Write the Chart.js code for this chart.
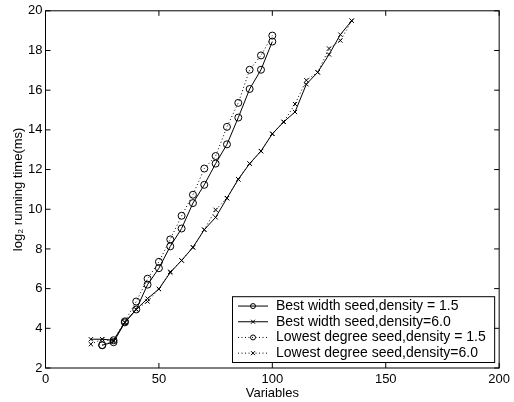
<!DOCTYPE html>
<html>
<head>
<meta charset="utf-8">
<script src="https://cdn.jsdelivr.net/npm/chart.js@4.4.1/dist/chart.umd.min.js"></script>
<style>
  html, body { margin: 0; padding: 0; background: #fff; }
  canvas { display: block; }
</style>
</head>
<body>
<canvas id="chart" width="514" height="402"></canvas>
<script>
// variables (x) for each family of runs
const varsCircle = [25, 30, 35, 40, 45, 50, 55, 60, 65, 70, 75, 80, 85, 90, 95, 100];
const varsCross = [20, 25, 30, 35, 40, 45, 50, 55, 60, 65, 70, 75, 80, 85, 90, 95, 100, 105, 110, 115, 120, 125, 130, 135];

// log2 running time (ms)
const bestWidth15 = [3.15, 3.3, 4.3, 4.95, 6.2, 7.03, 8.13, 9.03, 10.31, 11.23, 12.3, 13.27, 14.62, 16.06, 17.03, 18.45];
const lowestDeg15 = [3.15, 3.4, 4.35, 5.35, 6.5, 7.35, 8.48, 9.67, 10.73, 12.05, 12.68, 14.15, 15.36, 17.03, 17.75, 18.75];
const bestWidth60 = [3.45, 3.45, 3.4, 4.3, 4.95, 5.5, 5.98, 6.81, 7.42, 8.08, 8.97, 9.59, 10.56, 11.51, 12.3, 12.93, 13.8, 14.4, 14.9, 16.3, 16.9, 17.8, 18.8, 19.5];
const lowestDeg60 = [3.2, 3.45, 3.35, 4.3, 4.95, 5.35, 5.98, 6.85, 7.42, 8.08, 8.97, 9.97, 10.56, 11.51, 12.3, 12.93, 13.8, 14.4, 15.3, 16.5, 16.9, 18.1, 18.5, 19.5];

const seriesNames = [
  'Best width seed,density = 1.5',
  'Best width seed,density=6.0',
  'Lowest degree seed,density = 1.5',
  'Lowest degree seed,density=6.0'
];

const xTicks = [0, 50, 100, 150, 200];
const yTicks = [2, 4, 6, 8, 10, 12, 14, 16, 18, 20];

const FONT = '"Liberation Sans", Arial, Helvetica, sans-serif';
const dotted = [1, 2.5];

function pts(xs, ys) {
  return xs.map((x, i) => ({ x: x, y: ys[i] }));
}

function series(label, xs, ys, style, dash) {
  return {
    label: label,
    data: pts(xs, ys),
    borderColor: '#000',
    borderWidth: 1,
    borderDash: dash,
    pointStyle: style,
    pointRadius: style === 'circle' ? 3.5 : 3,
    pointBorderColor: '#000',
    pointBackgroundColor: 'rgba(0,0,0,0)',
    pointBorderWidth: 1,
    tension: 0
  };
}

// box round the axes and inward ticks on all four sides
const frame = {
  id: 'frame',
  afterDatasetsDraw(chart) {
    const { ctx, chartArea: a, scales: { x, y } } = chart;
    ctx.save();
    ctx.strokeStyle = '#000';
    ctx.lineWidth = 1;
    ctx.strokeRect(a.left, a.top, a.right - a.left, a.bottom - a.top);
    ctx.beginPath();
    x.ticks.forEach(t => {
      const px = x.getPixelForValue(t.value);
      ctx.moveTo(px, a.bottom); ctx.lineTo(px, a.bottom - 5);
      ctx.moveTo(px, a.top); ctx.lineTo(px, a.top + 5);
    });
    y.ticks.forEach(t => {
      const py = y.getPixelForValue(t.value);
      ctx.moveTo(a.left, py); ctx.lineTo(a.left + 5, py);
      ctx.moveTo(a.right, py); ctx.lineTo(a.right - 5, py);
    });
    ctx.stroke();
    ctx.restore();
  }
};

// legend box in the lower right, drawn from the datasets
const boxLegend = {
  id: 'boxLegend',
  afterDraw(chart) {
    const ctx = chart.ctx;
    const a = chart.chartArea;
    const right = a.right - 5, bottom = a.bottom - 6;
    const left = 232, rowH = 15.7;
    const top = bottom - rowH * 4 - 3;
    ctx.save();
    ctx.fillStyle = '#fff';
    ctx.fillRect(left, top, right - left, bottom - top);
    ctx.strokeStyle = '#000';
    ctx.lineWidth = 1;
    ctx.strokeRect(left + 0.5, top + 0.5, right - left, bottom - top);
    ctx.font = '14px ' + FONT;
    ctx.textBaseline = 'middle';
    chart.data.datasets.forEach((ds, i) => {
      const cy = top + 1.5 + rowH * (i + 0.5) + 0.5;
      ctx.setLineDash(ds.borderDash || []);
      ctx.beginPath();
      ctx.moveTo(238, cy); ctx.lineTo(268, cy);
      ctx.stroke();
      ctx.setLineDash([]);
      ctx.beginPath();
      if (ds.pointStyle === 'circle') {
        ctx.arc(253, cy, 2.5, 0, Math.PI * 2);
      } else {
        ctx.moveTo(251, cy - 2); ctx.lineTo(255, cy + 2);
        ctx.moveTo(251, cy + 2); ctx.lineTo(255, cy - 2);
      }
      ctx.stroke();
      ctx.fillStyle = '#000';
      ctx.fillText(ds.label, 276, cy);
    });
    ctx.restore();
  }
};

new Chart(document.getElementById('chart'), {
  type: 'line',
  data: {
    datasets: [
      series(seriesNames[0], varsCircle, bestWidth15, 'circle', []),
      series(seriesNames[1], varsCross, bestWidth60, 'crossRot', []),
      series(seriesNames[2], varsCircle, lowestDeg15, 'circle', dotted),
      series(seriesNames[3], varsCross, lowestDeg60, 'crossRot', dotted)
    ]
  },
  options: {
    responsive: false,
    animation: false,
    layout: { padding: { top: 9, right: 11, left: 0, bottom: 0 } },
    plugins: { legend: { display: false }, tooltip: { enabled: false } },
    scales: {
      x: {
        type: 'linear',
        min: 0, max: 200,
        afterBuildTicks: s => { s.ticks = xTicks.map(v => ({ value: v })); },
        afterFit: s => { s.height = 34; },
        grid: { display: false, drawTicks: false },
        border: { display: false },
        ticks: { color: '#000', padding: 4, maxRotation: 0, font: { family: FONT, size: 13 } },
        title: { display: true, text: 'Variables', color: '#000', padding: { top: 0, bottom: 1 }, font: { family: FONT, size: 13 } }
      },
      y: {
        type: 'linear',
        min: 2, max: 20,
        afterBuildTicks: s => { s.ticks = yTicks.map(v => ({ value: v })); },
        afterFit: s => { s.width = 45.5; },
        grid: { display: false, drawTicks: false },
        border: { display: false },
        ticks: { color: '#000', padding: 3, font: { family: FONT, size: 13 } },
        title: { display: true, text: 'log\u2082 running time(ms)', color: '#000', padding: { top: 11, bottom: 0 }, font: { family: FONT, size: 13 } }
      }
    }
  },
  plugins: [frame, boxLegend]
});
</script>
</body>
</html>
